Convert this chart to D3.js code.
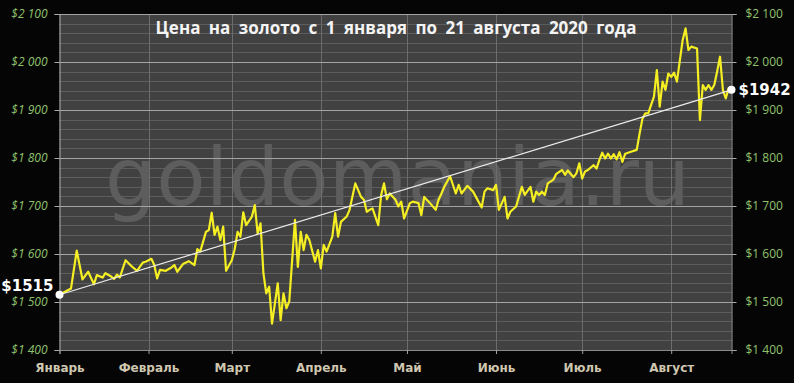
<!DOCTYPE html>
<html><head><meta charset="utf-8">
<script src="https://cdn.jsdelivr.net/npm/d3@7"></script>
<style>html,body{margin:0;padding:0;background:#050505;} svg{display:block}</style>
</head><body><svg id="c" width="794" height="383"></svg>
<script>
const title = "Цена на золото с 1 января по 21 августа 2020 года";
const watermark = "goldomania.ru";
const monthLabels = ["Январь","Февраль","Март","Апрель","Май","Июнь","Июль","Август"];
const monthStarts = ["2020-01-01","2020-02-01","2020-03-01","2020-04-01","2020-05-01","2020-06-01","2020-07-01","2020-08-01"];
const xDomain = ["2020-01-01","2020-08-22"];
const yTicks = [1400,1500,1600,1700,1800,1900,2000,2100];
const yMinorStep = 20;
const dates = ["01-01","01-05","01-07","01-09","01-11","01-13","01-14","01-16","01-17","01-19","01-20","01-21","01-22","01-24","01-26","01-28","01-30","01-31",
"02-02","02-03","02-04","02-05","02-07","02-09","02-10","02-11","02-13","02-15","02-17","02-18","02-19","02-21","02-22","02-23","02-24","02-25","02-26","02-27","02-28",
"03-01","03-02","03-03","03-04","03-05","03-06","03-08","03-09","03-10","03-11","03-12","03-13","03-14","03-15","03-17","03-18","03-19","03-20","03-21","03-23","03-24","03-25","03-26","03-27","03-28","03-30","03-31",
"04-01","04-02","04-03","04-05","04-06","04-07","04-08","04-10","04-11","04-13","04-15","04-16","04-17","04-18","04-19","04-21","04-22","04-23","04-24","04-25","04-27","04-28","04-29","04-30",
"05-02","05-03","05-05","05-06","05-07","05-09","05-11","05-12","05-13","05-14","05-16","05-18","05-19","05-20","05-22","05-24","05-25","05-27","05-28","05-29","05-31",
"06-01","06-02","06-04","06-05","06-06","06-08","06-10","06-11","06-13","06-14","06-15","06-16","06-17","06-18","06-19","06-21","06-22","06-24","06-25","06-26","06-28","06-29","06-30",
"07-01","07-02","07-03","07-05","07-06","07-07","07-08","07-09","07-10","07-11","07-12","07-13","07-14","07-15","07-16","07-18","07-20","07-21","07-22","07-23","07-24","07-26","07-27","07-28","07-29","07-30","07-31",
"08-01","08-02","08-03","08-05","08-06","08-07","08-08","08-10","08-11","08-12","08-13","08-14","08-15","08-16","08-17","08-18","08-19","08-20","08-21","08-22"];
const prices = [1515,1528,1607,1547,1563,1537,1556,1551,1560,1553,1548,1557,1551,1587,1575,1565,1582,1584,
1590,1577,1549,1567,1565,1572,1577,1563,1579,1585,1577,1610,1605,1646,1650,1686,1640,1657,1629,1657,1565,
1587,1610,1646,1636,1687,1660,1678,1702,1643,1664,1560,1518,1532,1455,1539,1462,1518,1487,1501,1671,1573,1646,1608,1640,1629,1584,1608,
1570,1619,1605,1636,1685,1636,1667,1678,1692,1747,1719,1713,1688,1692,1695,1660,1723,1747,1714,1726,1713,1699,1709,1674,
1706,1709,1706,1681,1719,1706,1692,1713,1726,1740,1762,1726,1744,1726,1742,1730,1719,1697,1730,1737,1733,
1744,1692,1719,1674,1688,1699,1740,1723,1740,1709,1730,1723,1730,1723,1747,1755,1767,1775,1765,1774,1760,1768,1789,
1757,1772,1775,1785,1778,1796,1811,1799,1809,1799,1808,1797,1812,1792,1809,1813,1817,1851,1882,1893,1893,1928,1983,1907,1959,1942,1976,
1969,1978,1959,2046,2070,2025,2032,2028,1879,1952,1942,1952,1942,1952,1980,2011,1942,1924,1945,1942];

const parse = d3.timeParse("%Y-%m-%d");
const data = dates.map((d,i)=>({date: parse("2020-"+d), price: prices[i]}));

const svg = d3.select("#c");
const L = 59.5, R = 731.5, T = 14, B = 350;
const x = d3.scaleTime().domain(xDomain.map(parse)).range([L, R]);
const y = d3.scaleLinear().domain([yTicks[0], yTicks[yTicks.length-1]]).range([B, T]);

svg.append("rect").attr("width",794).attr("height",383).attr("fill","#050505");
svg.append("rect").attr("x",L).attr("y",T).attr("width",R-L).attr("height",B-T).attr("fill","#414141");

// watermark
svg.append("text").attr("x",105).attr("y",205).attr("textLength",585).attr("lengthAdjust","spacingAndGlyphs")
  .attr("font-family","DejaVu Sans").attr("font-size",80).attr("fill","#5d5d5d").text(watermark);

// minor grid
const minor = d3.range(yTicks[0], yTicks[yTicks.length-1]+1, yMinorStep).filter(v=>!yTicks.includes(v));
svg.append("g").selectAll("line").data(minor).join("line")
  .attr("x1",L).attr("x2",R).attr("y1",d=>Math.round(y(d))+0.5).attr("y2",d=>Math.round(y(d))+0.5)
  .attr("stroke","#5d5d5d").attr("stroke-width",1);
// vertical month grid
svg.append("g").selectAll("line").data(monthStarts.slice(1).map(parse)).join("line")
  .attr("x1",d=>Math.round(x(d))+0.5).attr("x2",d=>Math.round(x(d))+0.5).attr("y1",T).attr("y2",B)
  .attr("stroke","#6c6c6c").attr("stroke-width",1);
// major grid
svg.append("g").selectAll("line").data(yTicks).join("line")
  .attr("x1",L).attr("x2",R).attr("y1",d=>Math.round(y(d))+0.5).attr("y2",d=>Math.round(y(d))+0.5)
  .attr("stroke","#a4a4a4").attr("stroke-width",1);

const fmt = d => "$" + (d >= 1000 ? Math.floor(d/1000) + "\u00a0" + String(d%1000).padStart(3,"0") : d);

const gl = svg.append("g").attr("transform",`translate(${L},0)`)
  .call(d3.axisLeft(y).tickValues(yTicks).tickFormat(fmt).tickSize(5).tickPadding(7));
gl.selectAll("text").attr("font-family","Open Sans").attr("font-style","italic").attr("font-size",12).attr("fill","#8fc36c");
gl.selectAll("line").attr("stroke","#a8a8a8");
gl.select(".domain").attr("stroke","#b0b0b0");

const gr = svg.append("g").attr("transform",`translate(${R},0)`)
  .call(d3.axisRight(y).tickValues(yTicks).tickFormat(fmt).tickSize(5).tickPadding(9));
gr.selectAll("text").attr("font-family","Open Sans").attr("font-size",12).attr("fill","#8fc36c");
gr.selectAll("line").attr("stroke","#a8a8a8");
gr.select(".domain").attr("stroke","#a0a0a0");

const gb = svg.append("g").attr("transform",`translate(0,${B})`)
  .call(d3.axisBottom(x).tickValues(monthStarts.map(parse)).tickFormat((d,i)=>monthLabels[i]).tickSize(4).tickPadding(9));
gb.selectAll("text").attr("font-family","DejaVu Sans").attr("font-weight","bold").attr("font-size",12).attr("fill","#cfc7b0");
gb.selectAll("line").attr("stroke","#a0a0a0");
gb.select(".domain").attr("stroke","#8a8a8a");

// price line
svg.append("path").datum(data)
  .attr("d", d3.line().x(d=>x(d.date)).y(d=>y(d.price)))
  .attr("fill","none").attr("stroke","#f4ee22").attr("stroke-width",2.2).attr("stroke-linejoin","round");

// trend line
const first = data[0], last = data[data.length-1];
svg.append("line").attr("x1",x(first.date)).attr("y1",y(first.price)).attr("x2",x(last.date)).attr("y2",y(last.price))
  .attr("stroke","#ececec").attr("stroke-width",1.2);
svg.selectAll("circle.end").data([first,last]).join("circle").attr("class","end")
  .attr("cx",d=>x(d.date)).attr("cy",d=>y(d.price)).attr("r",4).attr("fill","#fff");

svg.append("text").attr("x",x(first.date)-6).attr("y",y(first.price)-4).attr("text-anchor","end")
  .attr("font-family","DejaVu Sans").attr("font-weight","bold").attr("font-size",15).attr("fill","#fff").text("$"+first.price);
svg.append("text").attr("x",x(last.date)+7).attr("y",y(last.price)+5).attr("text-anchor","start")
  .attr("font-family","DejaVu Sans").attr("font-weight","bold").attr("font-size",15).attr("fill","#fff").text("$"+last.price);

// title
svg.append("text").attr("x",396).attr("y",34).attr("text-anchor","middle")
  .attr("font-family","Open Sans").attr("font-weight","bold").attr("font-size",17).attr("word-spacing",4)
  .attr("fill","#f4f4f4").text(title);
</script></body></html>
